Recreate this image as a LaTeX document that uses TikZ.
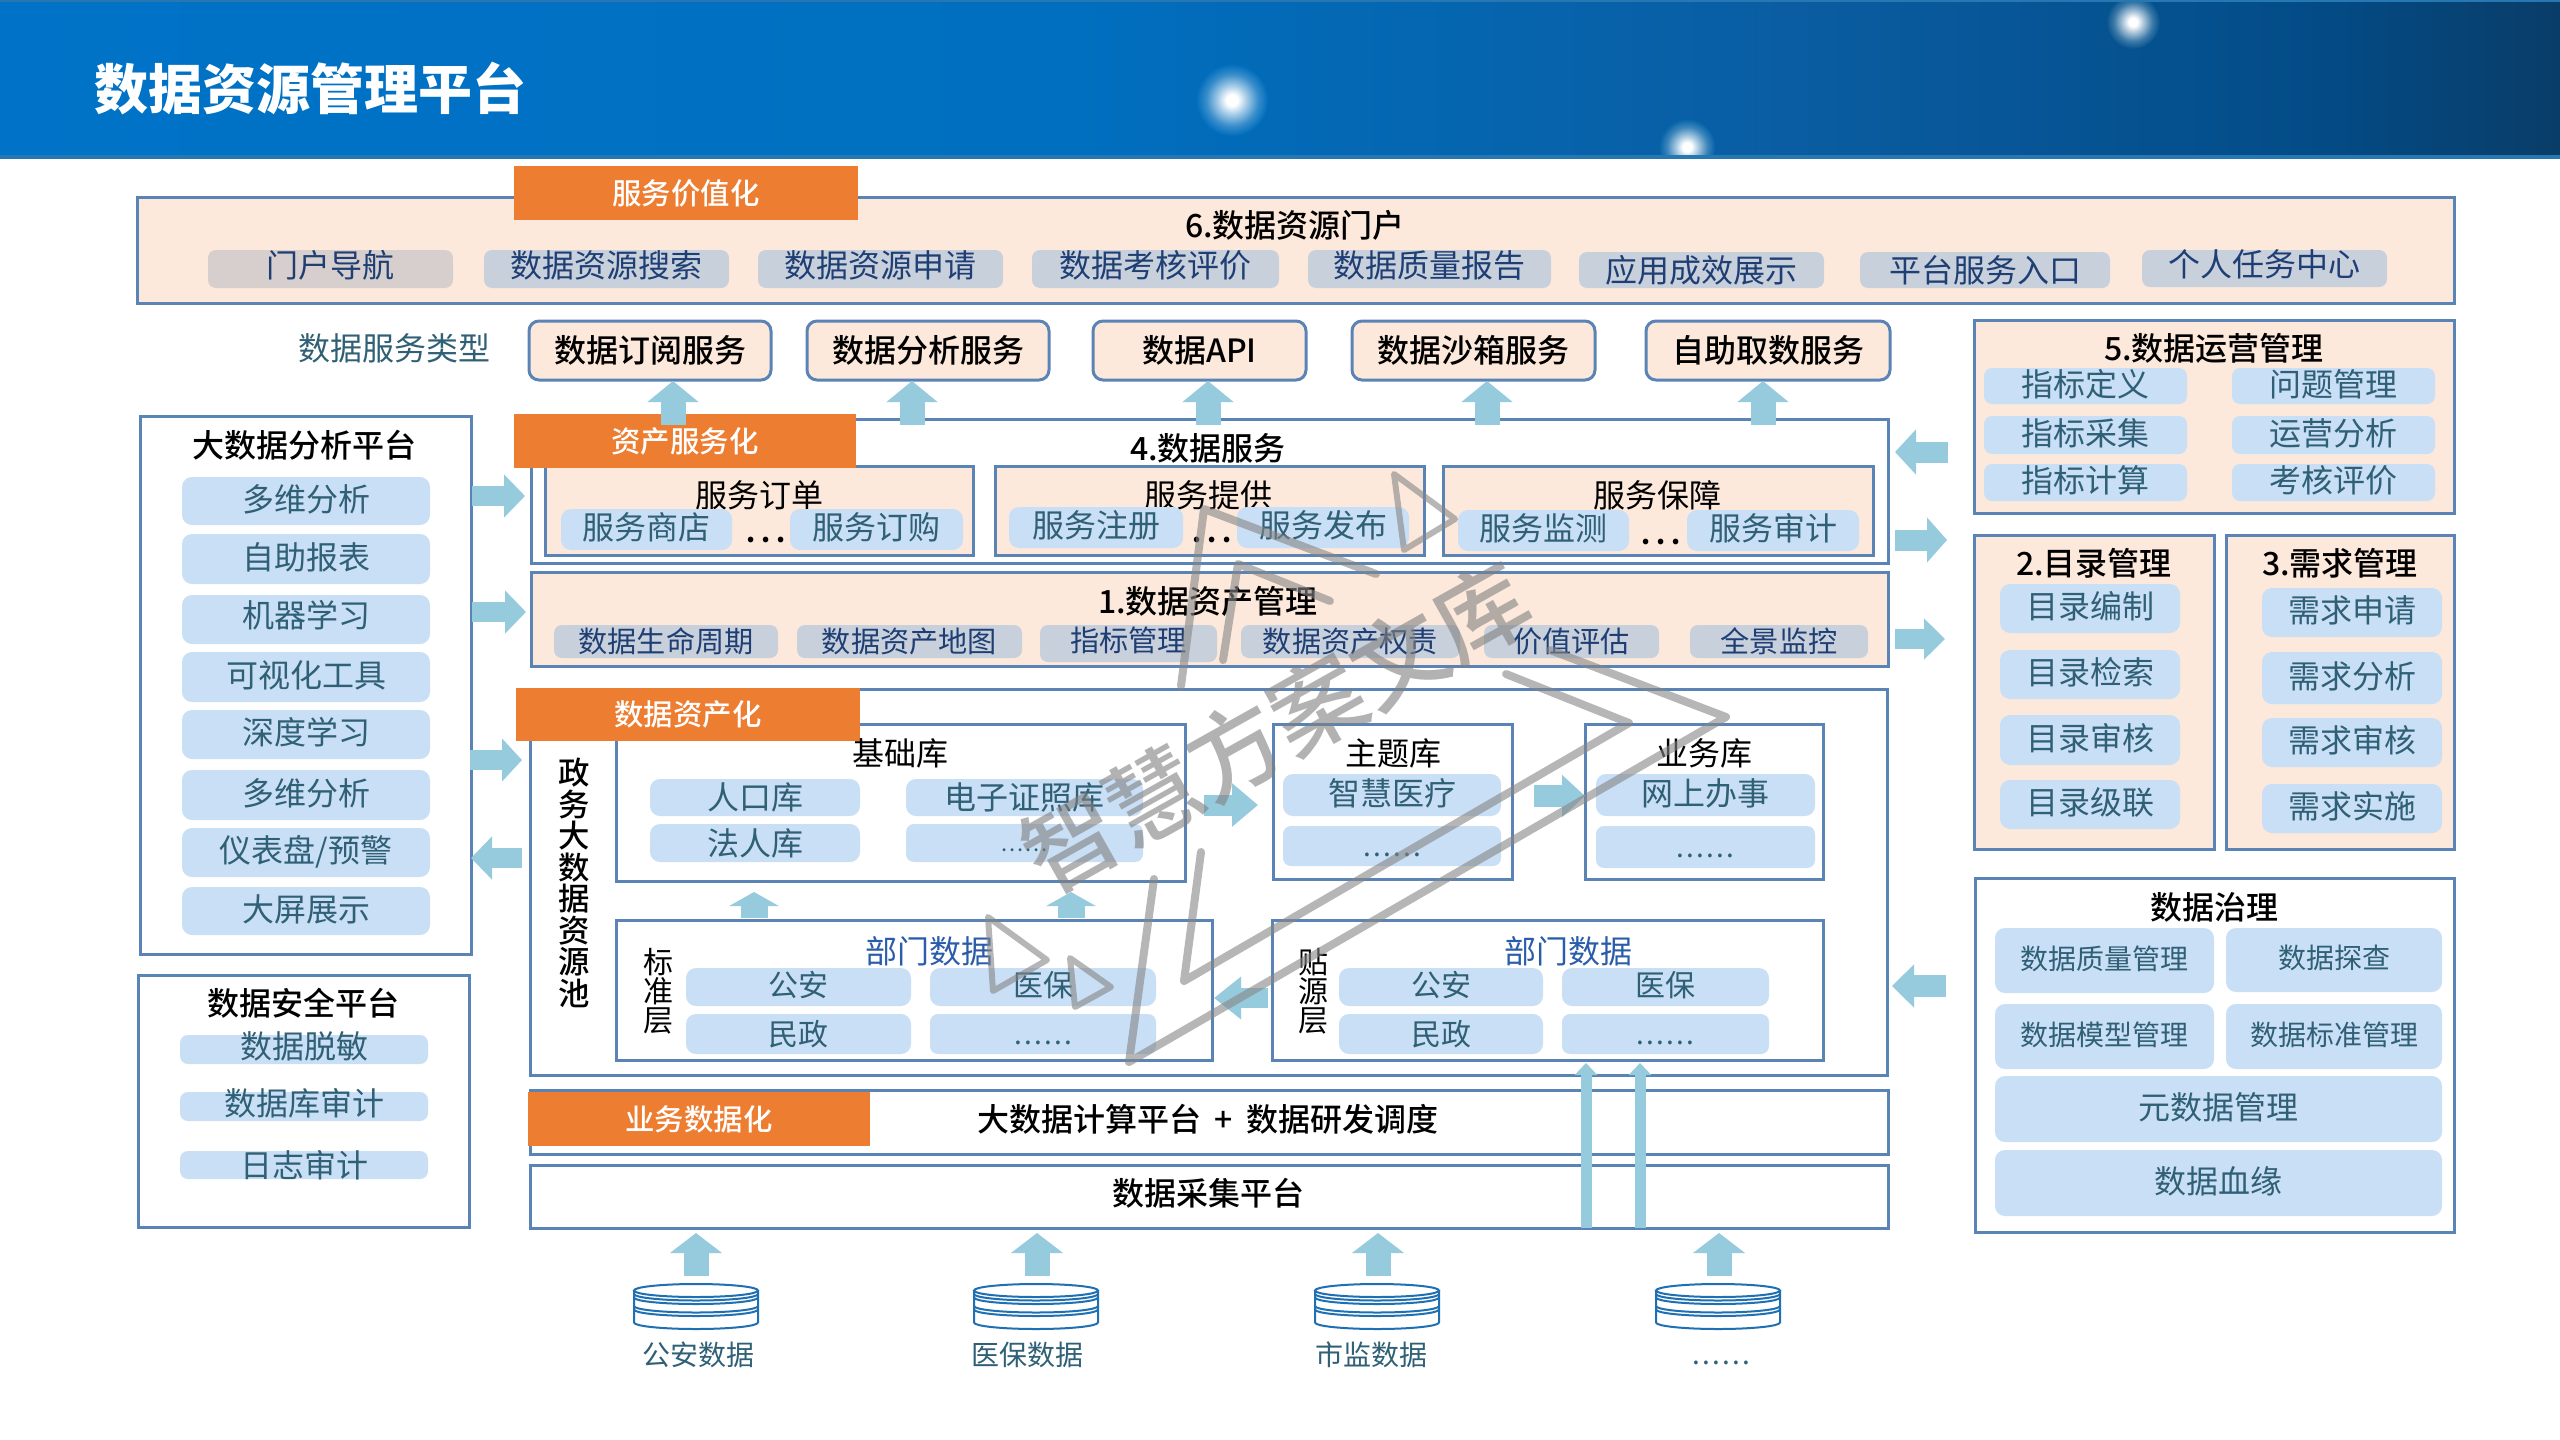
\documentclass[tikz,border=0pt]{standalone}
\usepackage{fontspec}
\setmainfont{Noto Sans CJK SC}
\newfontfamily\medf{Noto Sans CJK SC Medium}
\usetikzlibrary{arrows.meta}
\definecolor{bord}{HTML}{5B84B6}
\definecolor{peach}{HTML}{FDE9DB}
\definecolor{orangetag}{HTML}{ED7D31}
\definecolor{itemblue}{HTML}{C9DFF6}
\definecolor{itemgray}{HTML}{C8D0DC}
\definecolor{itemtaupe}{HTML}{D6CFCD}
\definecolor{teal}{HTML}{2F6075}
\definecolor{navy}{HTML}{1F3F74}
\definecolor{deptblue}{HTML}{2A5CAA}
\definecolor{arrowblue}{HTML}{96CBDD}
\definecolor{dbblue}{HTML}{1F70B2}
\definecolor{bgA}{HTML}{006DBC}
\definecolor{bgB}{HTML}{04528F}
\definecolor{bgC}{HTML}{0563A8}
\definecolor{HdrA}{HTML}{0073C8}
\definecolor{HdrB}{HTML}{006FBF}
\definecolor{HdrC}{HTML}{0A5DA2}
\definecolor{HdrD}{HTML}{034C88}
\definecolor{HdrE}{HTML}{093D68}
\pgfdeclarehorizontalshading{headershade}{100bp}{color(0bp)=(HdrA);color(25bp)=(HdrA);color(46bp)=(HdrB);color(60bp)=(HdrC);color(70bp)=(HdrD);color(75bp)=(HdrE);color(100bp)=(HdrE)}
\pgfdeclareradialshading{starA}{\pgfpointorigin}{color(0bp)=(white);color(4bp)=(white);color(10bp)=(white!65!bgA);color(18bp)=(white!22!bgA);color(25bp)=(bgA);color(50bp)=(bgA)}
\pgfdeclareradialshading{starB}{\pgfpointorigin}{color(0bp)=(white);color(4bp)=(white);color(10bp)=(white!65!bgB);color(18bp)=(white!22!bgB);color(25bp)=(bgB);color(50bp)=(bgB)}
\pgfdeclareradialshading{starC}{\pgfpointorigin}{color(0bp)=(white);color(4bp)=(white);color(10bp)=(white!65!bgC);color(18bp)=(white!22!bgC);color(25bp)=(bgC);color(50bp)=(bgC)}
\newcommand\ct[2]{\raisebox{\dimexpr#1pt-.38em\relax}[0pt][0pt]{#2}}
\newcommand\sixd{.\hspace{.08em}.\hspace{.08em}.\hspace{.08em}.\hspace{.08em}.\hspace{.08em}.}
% [dy in pt]{name}{x1}{y1}{x2}{y2}{style}{text}
\newcommand\bx[8][0]{\node[#7,minimum width={(#5-#3)*0.5pt},minimum height={(#6-#4)*0.5pt}] (#2) at ({(#3+#5)/2},{(#4+#6)/2}) {\ct{#1}{#8}};}
% {name}{x}{y}{style}{text}
\newcommand\tx[5]{\node[#4,inner sep=0pt] (#1) at (#2,#3) {\ct{0}{#5}};}
% {name}{x1}{y1}{x2}{y2}{head length pt}{head width pt}{shaft width pt}
\newcommand\fat[8]{\coordinate (#1s) at (#2,#3);\coordinate (#1e) at (#4,#5);
\draw[arrowblue,line width=#8pt,-{Triangle[length=#6pt,width=#7pt]}] (#1s) -- (#1e);}
\newcommand\dbicon[2]{\begin{scope}[shift={(#2,0)},line width=1pt]
\draw[dbblue] (0,1290.5) ellipse [x radius=31pt,y radius=3.25pt];
\draw[dbblue] (-62,1290.5) -- (-62,1322.5) arc[start angle=180,end angle=360,x radius=31pt,y radius=3.25pt] -- (62,1290.5);
\foreach \yy in {1294,1297.5,1306,1309.5}{\draw[dbblue] (-62,\yy) arc[start angle=180,end angle=360,x radius=31pt,y radius=3.25pt];}
\end{scope}\coordinate (#1) at (#2,1306);}
\tikzset{
 boxw/.style={draw=bord,line width=1.5pt,fill=white,inner sep=0pt},
 boxp/.style={draw=bord,line width=1.5pt,fill=peach,inner sep=0pt},
 svc/.style={boxp,rounded corners=5pt,font=\medf\fontsize{16pt}{18pt}\selectfont},
 tagbox/.style={fill=orangetag,text=white,inner sep=0pt,font=\medf\fontsize{14.7pt}{18pt}\selectfont},
 itm/.style={fill=itemblue,text=teal,rounded corners=5pt,inner sep=0pt,font=\fontsize{16pt}{18pt}\selectfont},
 itmf/.style={itm,rounded corners=4pt},
 itmg/.style={fill=itemgray,text=navy,rounded corners=4pt,inner sep=0pt,font=\fontsize{16pt}{18pt}\selectfont},
 itms/.style={itmg,font=\fontsize{14.6pt}{18pt}\selectfont},
 itmd/.style={itm,font=\fontsize{15pt}{18pt}\selectfont},
 itmt/.style={itm,font=\fontsize{14pt}{18pt}\selectfont},
 dotitem/.style={itmf,font=\fontsize{14pt}{14pt}\selectfont},
 ttl/.style={font=\medf\fontsize{16pt}{18pt}\selectfont,text=black},
 ttn/.style={font=\fontsize{16pt}{18pt}\selectfont,text=black},
 dept/.style={font=\fontsize{16pt}{18pt}\selectfont,text=deptblue},
 lbl/.style={font=\fontsize{16pt}{18pt}\selectfont,text=teal},
 lbls/.style={font=\fontsize{14pt}{18pt}\selectfont,text=teal},
 dotsl/.style={font=\fontsize{13pt}{18pt}\selectfont\bfseries,text=black},
 wmark/.style={draw=gray!95,line width=4pt,opacity=.6,line cap=round,line join=round},
 wmarks/.style={wmark,line width=3pt},
}
\begin{document}
\begin{tikzpicture}[x=0.5pt,y=-0.5pt]
\useasboundingbox (0,0) rectangle (2560,1440);
\fill[white] (0,0) rectangle (2560,1440);
% header
\begin{scope}
\clip (0,0) rectangle (2560,158);
\shade[shading=headershade] (0,0) rectangle (2560,158);
\shade[shading=starA] (1232,100) circle (36);
\shade[shading=starB] (2133,22) circle (27);
\shade[shading=starC] (1687,147) circle (28);
\end{scope}
\fill[HdrA!70!gray] (0,155) rectangle (2560,159);
\fill[HdrA!70!gray] (0,0) rectangle (2560,2);
\tx{title}{310}{89}{font=\fontsize{27pt}{30pt}\selectfont\bfseries,text=white}{数据资源管理平台}

% box 6
\bx{b6}{137}{197}{2454}{303}{boxp}{}
\bx{t1}{514}{166}{858}{220}{tagbox}{服务价值化}
\tx{b6t}{1295}{225}{ttl}{6.数据资源门户}
\bx[2]{p1}{208}{250}{453}{288}{itmg,fill=itemtaupe}{门户导航}
\bx[2]{p2}{484}{250}{729}{288}{itmg}{数据资源搜索}
\bx[2]{p3}{758}{250}{1003}{288}{itmg}{数据资源申请}
\bx[2]{p4}{1032}{250}{1279}{288}{itmg}{数据考核评价}
\bx[2]{p5}{1308}{250}{1551}{288}{itmg}{数据质量报告}
\bx{p6}{1579}{252}{1824}{288}{itmg}{应用成效展示}
\bx{p7}{1860}{252}{2110}{288}{itmg}{平台服务入口}
\bx[2]{p8}{2142}{250}{2387}{287}{itmg}{个人任务中心}

% service row
\tx{svcl}{394}{348}{lbl}{数据服务类型}
\bx{s1}{529}{321}{771}{380}{svc}{数据订阅服务}
\bx{s2}{807}{321}{1049}{380}{svc}{数据分析服务}
\bx{s3}{1093}{321}{1306}{380}{svc}{数据API}
\bx{s4}{1352}{321}{1595}{380}{svc}{数据沙箱服务}
\bx{s5}{1646}{321}{1890}{380}{svc}{自助取数服务}

% box 4
\bx{b4}{531}{419}{1888}{563}{boxw}{}
\bx{sb1}{545}{466}{973}{555}{boxp}{}
\bx{sb2}{995}{466}{1424}{555}{boxp}{}
\bx{sb3}{1443}{466}{1873}{555}{boxp}{}
\bx{t2}{514}{414}{856}{468}{tagbox}{资产服务化}
\tx{b4t}{1208}{448}{ttl}{4.数据服务}
\tx{sb1t}{759}{495}{ttn}{服务订单}
\tx{sb2t}{1208}{495}{ttn}{服务提供}
\tx{sb3t}{1657}{495}{ttn}{服务保障}
\bx[1]{o1}{561}{509}{732}{550}{itm}{服务商店}
\bx[1]{o2}{790}{509}{963}{550}{itm}{服务订购}
\bx[1]{o3}{1009}{507}{1183}{548}{itm}{服务注册}
\bx[1]{o4}{1237}{507}{1409}{548}{itm}{服务发布}
\bx[1]{o5}{1458}{510}{1629}{551}{itm}{服务监测}
\bx[1]{o6}{1687}{510}{1859}{551}{itm}{服务审计}
\tx{d1}{766}{533}{dotsl}{.\hspace{.22em}.\hspace{.22em}.}
\tx{d2}{1212}{533}{dotsl}{.\hspace{.22em}.\hspace{.22em}.}
\tx{d3}{1661}{535}{dotsl}{.\hspace{.22em}.\hspace{.22em}.}

% box 1
\bx{b1}{531}{572}{1888}{666}{boxp}{}
\tx{b1t}{1208}{601}{ttl}{1.数据资产管理}
\bx{a1}{554}{625}{778}{658}{itms}{数据生命周期}
\bx{a2}{797}{625}{1022}{658}{itms}{数据资产地图}
\bx[1.5]{a3}{1040}{625}{1217}{662}{itms}{指标管理}
\bx{a4}{1241}{625}{1460}{658}{itms}{数据资产权责}
\bx{a5}{1484}{625}{1659}{658}{itms}{价值评估}
\bx{a6}{1690}{625}{1868}{658}{itms}{全景监控}

% data pool
\bx{pool}{530}{689}{1887}{1075}{boxw}{}
\node[font=\medf\fontsize{15.7pt}{15.75pt}\selectfont,align=center,inner sep=0pt] (poolt) at (574,883) {政\\务\\大\\数\\据\\资\\源\\池};
\bx{base}{616}{724}{1185}{881}{boxw}{}
\bx{t3}{516}{688}{860}{741}{tagbox}{数据资产化}
\tx{baset}{900}{753}{ttn}{基础库}
\bx{i1}{650}{779}{860}{816}{itm}{人口库}
\bx{i2}{906}{779}{1143}{816}{itm}{电子证照库}
\bx{i3}{650}{824}{860}{862}{itm}{法人库}
\bx{i4}{906}{824}{1143}{862}{itmf,font=\fontsize{11pt}{14pt}\selectfont}{\sixd}
\bx{theme}{1273}{724}{1512}{879}{boxw}{}
\tx{themet}{1393}{753}{ttn}{主题库}
\bx[1]{i5}{1283}{774}{1501}{816}{itm}{智慧医疗}
\bx{i6}{1283}{826}{1501}{866}{dotitem}{\sixd}
\bx{biz}{1585}{724}{1823}{879}{boxw}{}
\tx{bizt}{1704}{753}{ttn}{业务库}
\bx[1]{i7}{1596}{774}{1815}{816}{itm}{网上办事}
\bx{i8}{1596}{826}{1815}{868}{dotitem}{\sixd}

% standard / source layers
\bx{std}{616}{920}{1212}{1060}{boxw}{}
\tx{stdt}{929}{951}{dept}{部门数据}
\node[font=\fontsize{15pt}{14.5pt}\selectfont,align=center,inner sep=0pt] (stdv) at (658,991) {标\\准\\层};
\bx[1]{q1}{686}{968}{911}{1006}{itmd}{公安}
\bx[1]{q2}{930}{968}{1156}{1006}{itmd}{医保}
\bx{q3}{686}{1014}{911}{1054}{itmd}{民政}
\bx{q4}{930}{1014}{1156}{1054}{dotitem}{\sixd}
\bx{src}{1272}{920}{1823}{1060}{boxw}{}
\tx{srct}{1568}{951}{dept}{部门数据}
\node[font=\fontsize{15pt}{14.5pt}\selectfont,align=center,inner sep=0pt] (srcv) at (1313,991) {贴\\源\\层};
\bx[1]{r1}{1339}{968}{1543}{1006}{itmd}{公安}
\bx[1]{r2}{1562}{968}{1769}{1006}{itmd}{医保}
\bx{r3}{1339}{1014}{1543}{1054}{itmd}{民政}
\bx{r4}{1562}{1014}{1769}{1054}{dotitem}{\sixd}

% platforms
\bx{calc}{530}{1090}{1888}{1154}{boxw}{}
\bx{t4}{528}{1092}{870}{1146}{tagbox}{业务数据化}
\tx{calct}{1208}{1119}{ttl}{大数据计算平台\hspace{.18em} + \hspace{.18em}数据研发调度}
\bx{coll}{530}{1165}{1888}{1228}{boxw}{}
\tx{collt}{1208}{1193}{ttl}{数据采集平台}

% databases
\dbicon{db1}{696}
\dbicon{db2}{1036}
\dbicon{db3}{1377}
\dbicon{db4}{1718}
\tx{dl1}{698}{1355}{lbls}{公安数据}
\tx{dl2}{1027}{1355}{lbls}{医保数据}
\tx{dl3}{1371}{1355}{lbls}{市监数据}
\tx{dl4}{1721}{1354}{lbls}{\sixd}

% big data analysis
\bx{ana}{140}{416}{471}{954}{boxw}{}
\tx{anat}{304}{445}{ttl}{大数据分析平台}
\bx[1]{l1}{182}{477}{430}{525}{itm}{多维分析}
\bx[1]{l2}{182}{534}{430}{584}{itm}{自助报表}
\bx[2]{l3}{182}{595}{430}{644}{itm}{机器学习}
\bx[1]{l4}{182}{652}{430}{702}{itm}{可视化工具}
\bx[1]{l5}{182}{710}{430}{759}{itm}{深度学习}
\bx[1]{l6}{182}{770}{430}{820}{itm}{多维分析}
\bx[1]{l7}{182}{828}{430}{877}{itm}{仪表盘/预警}
\bx[1]{l8}{182}{887}{430}{935}{itm}{大屏展示}

% security
\bx{sec}{138}{975}{469}{1227}{boxw}{}
\tx{sect}{303}{1003}{ttl}{数据安全平台}
\bx[1.5]{m1}{180}{1035}{428}{1064}{itmf}{数据脱敏}
\bx[1.5]{m2}{180}{1092}{428}{1121}{itmf}{数据库审计}
\bx{m3}{180}{1151}{428}{1179}{itmf}{日志审计}

% operations
\bx{ops}{1974}{320}{2454}{513}{boxp}{}
\tx{opst}{2214}{348}{ttl}{5.数据运营管理}
\bx[1]{u1}{1984}{368}{2187}{404}{itmf}{指标定义}
\bx[1]{u2}{2232}{368}{2435}{404}{itmf}{问题管理}
\bx[1]{u3}{1984}{416}{2187}{454}{itmf}{指标采集}
\bx[1]{u4}{2232}{416}{2435}{454}{itmf}{运营分析}
\bx[1]{u5}{1984}{464}{2187}{501}{itmf}{指标计算}
\bx[1]{u6}{2232}{464}{2435}{501}{itmf}{考核评价}

% catalog
\bx{cat}{1974}{535}{2214}{849}{boxp}{}
\tx{catt}{2094}{563}{ttl}{2.目录管理}
\bx[1]{c1}{2000}{584}{2180}{633}{itm}{目录编制}
\bx[1]{c2}{2000}{650}{2180}{699}{itm}{目录检索}
\bx[1]{c3}{2000}{715}{2180}{765}{itm}{目录审核}
\bx[1]{c4}{2000}{780}{2180}{829}{itm}{目录级联}

% demand
\bx{dem}{2226}{535}{2454}{849}{boxp}{}
\tx{demt}{2340}{563}{ttl}{3.需求管理}
\bx[1]{e1}{2262}{588}{2442}{637}{itm}{需求申请}
\bx[1]{e2}{2262}{652}{2442}{704}{itm}{需求分析}
\bx[1]{e3}{2262}{718}{2442}{767}{itm}{需求审核}
\bx[1]{e4}{2262}{784}{2442}{833}{itm}{需求实施}

% governance
\bx{gov}{1975}{878}{2454}{1232}{boxw}{}
\tx{govt}{2214}{907}{ttl}{数据治理}
\bx[1]{g1}{1995}{928}{2214}{993}{itmt}{数据质量管理}
\bx[1]{g2}{2226}{928}{2442}{992}{itmt}{数据探查}
\bx[1]{g3}{1995}{1004}{2214}{1069}{itmt}{数据模型管理}
\bx[1]{g4}{2226}{1004}{2442}{1069}{itmt}{数据标准管理}
\bx[1]{g5}{1995}{1076}{2442}{1142}{itm}{元数据管理}
\bx[1]{g6}{1995}{1150}{2442}{1216}{itm}{数据血缘}

% block arrows
\fat{ua1}{673}{425}{673}{381}{10.5}{25}{12.5}
\fat{ua2}{912}{425}{912}{381}{10.5}{25}{12.5}
\fat{ua3}{1208}{425}{1208}{381}{10.5}{25}{12.5}
\fat{ua4}{1487}{425}{1487}{381}{10.5}{25}{12.5}
\fat{ua5}{1763}{425}{1763}{381}{10.5}{25}{12.5}
\fat{la1}{472}{496}{525}{496}{10.5}{21}{10}
\fat{la2}{472}{612}{526}{612}{10.5}{21}{10}
\fat{la3}{470}{760}{522}{760}{10}{21}{10}
\fat{la4}{522}{858}{471}{858}{10.5}{21}{10}
\fat{ra1}{1948}{452}{1895}{452}{10.5}{22}{10.5}
\fat{ra2}{1895}{540}{1947}{540}{10}{22}{10.5}
\fat{ra3}{1895}{639}{1945}{639}{10.5}{20}{10}
\fat{ra4}{1946}{986}{1892}{986}{11}{21}{11}
\fat{ma1}{1204}{805}{1258}{805}{13}{21}{10.5}
\fat{ma2}{1534}{796}{1585}{796}{11.5}{20.5}{11}
\fat{ma3}{1268}{998}{1214}{998}{13.5}{20.5}{10}
\fat{ma4}{754}{918}{754}{892}{7}{24.5}{13.5}
\fat{ma5}{1071}{918}{1071}{892}{7}{24.5}{13.5}
\fat{ta1}{1586}{1228}{1586}{1063}{6}{11}{5.5}
\fat{ta2}{1640}{1228}{1640}{1063}{6}{11}{5.5}
\fat{ba1}{696}{1276}{696}{1233}{10}{25.5}{12.5}
\fat{ba2}{1037}{1276}{1037}{1233}{10}{25.5}{12.5}
\fat{ba3}{1378}{1276}{1378}{1233}{10}{25.5}{12.5}
\fat{ba4}{1719}{1276}{1719}{1233}{10}{25.5}{12.5}

% watermark
\draw[wmark] (1181,686) -- (1204,509) -- (1376,574);
\draw[wmark] (1223,660) -- (1238,564) -- (1330,601);
\draw[wmarks] (1394,474) -- (1455,519) -- (1404,550) -- cycle;
\draw[wmark] (1550,650) -- (1726,717) -- (1129,1062) -- (1154,879);
\draw[wmark] (1506,674) -- (1629,723) -- (1184,981) -- (1201,852);
\draw[wmarks] (988,917) -- (1047,960) -- (993,991) -- cycle;
\draw[wmarks] (1070,958) -- (1111,987) -- (1075,1007) -- cycle;
\node[rotate=29.3,font=\medf\fontsize{47pt}{50pt}\selectfont,text=gray,opacity=.6,inner sep=0pt] (wm) at (1276,727) {\ct{0}{智慧方案文库}};
\end{tikzpicture}
\end{document}
